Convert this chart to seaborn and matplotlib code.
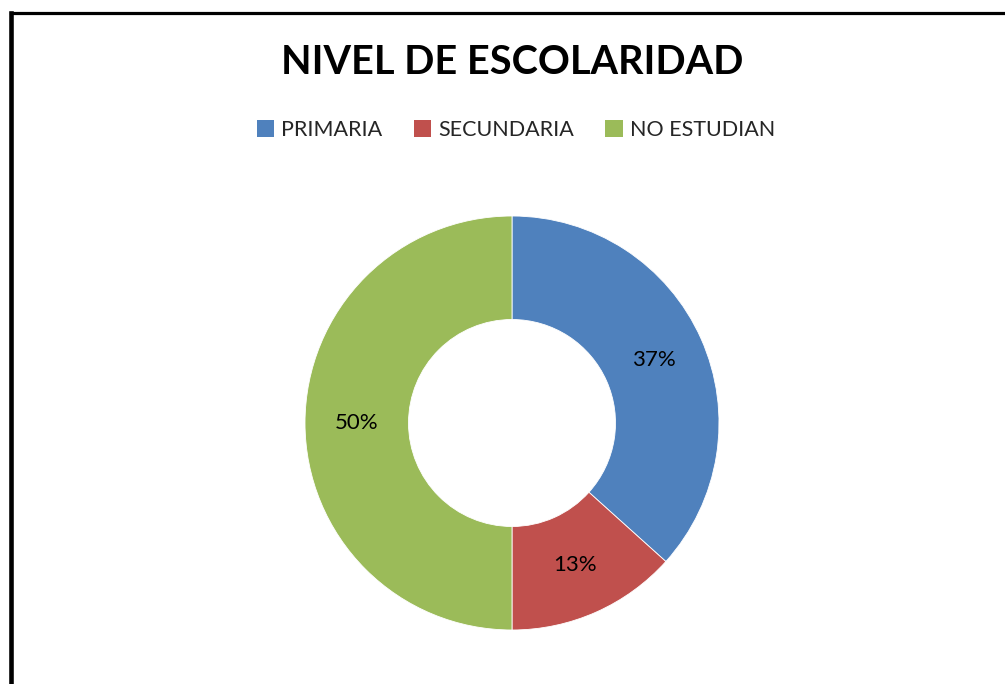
import matplotlib
matplotlib.use("Agg")
import matplotlib.pyplot as plt
from matplotlib.lines import Line2D
from matplotlib.patches import Patch
import seaborn as sns

categories = ["PRIMARIA", "SECUNDARIA", "NO ESTUDIAN"]
counts = [11, 4, 15]
title = "NIVEL DE ESCOLARIDAD"

sns.set_theme(style="white")
plt.rcParams["font.family"] = ["Lato", "DejaVu Sans"]

colors = ["#4F81BD", "#C0504D", "#9BBB59"]

fig = plt.figure(figsize=(10.05, 6.84), dpi=100)
W, H = 1005, 684

# donut centred at (512, 423) px, outer radius ~207 px
cx, cy, r = 512, 423, 207
ax = fig.add_axes([(cx - r) / W, (H - cy - r) / H, 2 * r / W, 2 * r / H])
wedges, texts, autotexts = ax.pie(
    counts,
    colors=colors,
    startangle=90,
    counterclock=False,
    radius=1.0,
    autopct=lambda p: f"{p:.0f}%",
    pctdistance=0.75,
    wedgeprops=dict(width=0.5, edgecolor="white", linewidth=0.6),
    textprops=dict(fontsize=16, color="black"),
)
ax.set_xlim(-1, 1)
ax.set_ylim(-1, 1)
ax.set_aspect("equal")
ax.axis("off")

fig.text(512 / W, 1 - 62 / H, title, ha="center", va="center",
         fontsize=28.5, fontweight="bold", color="black")

handles = [Patch(facecolor=c, edgecolor="none") for c in colors]
fig.legend(handles, categories, loc="center", bbox_to_anchor=(516 / W, 1 - 130 / H),
           ncol=3, frameon=False, fontsize=15.5, handlelength=0.8, handleheight=0.8,
           handletextpad=0.35, columnspacing=1.45)

# chart-area border (top and left edges visible)
fig.add_artist(Line2D([10.5 / W, 1], [1 - 12.5 / H, 1 - 12.5 / H],
                      transform=fig.transFigure, color="black", linewidth=2.3,
                      solid_capstyle="projecting"))
fig.add_artist(Line2D([10.5 / W, 10.5 / W], [0, 1 - 12.5 / H],
                      transform=fig.transFigure, color="black", linewidth=3.3,
                      solid_capstyle="projecting"))

fig.savefig("out.png", dpi=100, facecolor="white")
